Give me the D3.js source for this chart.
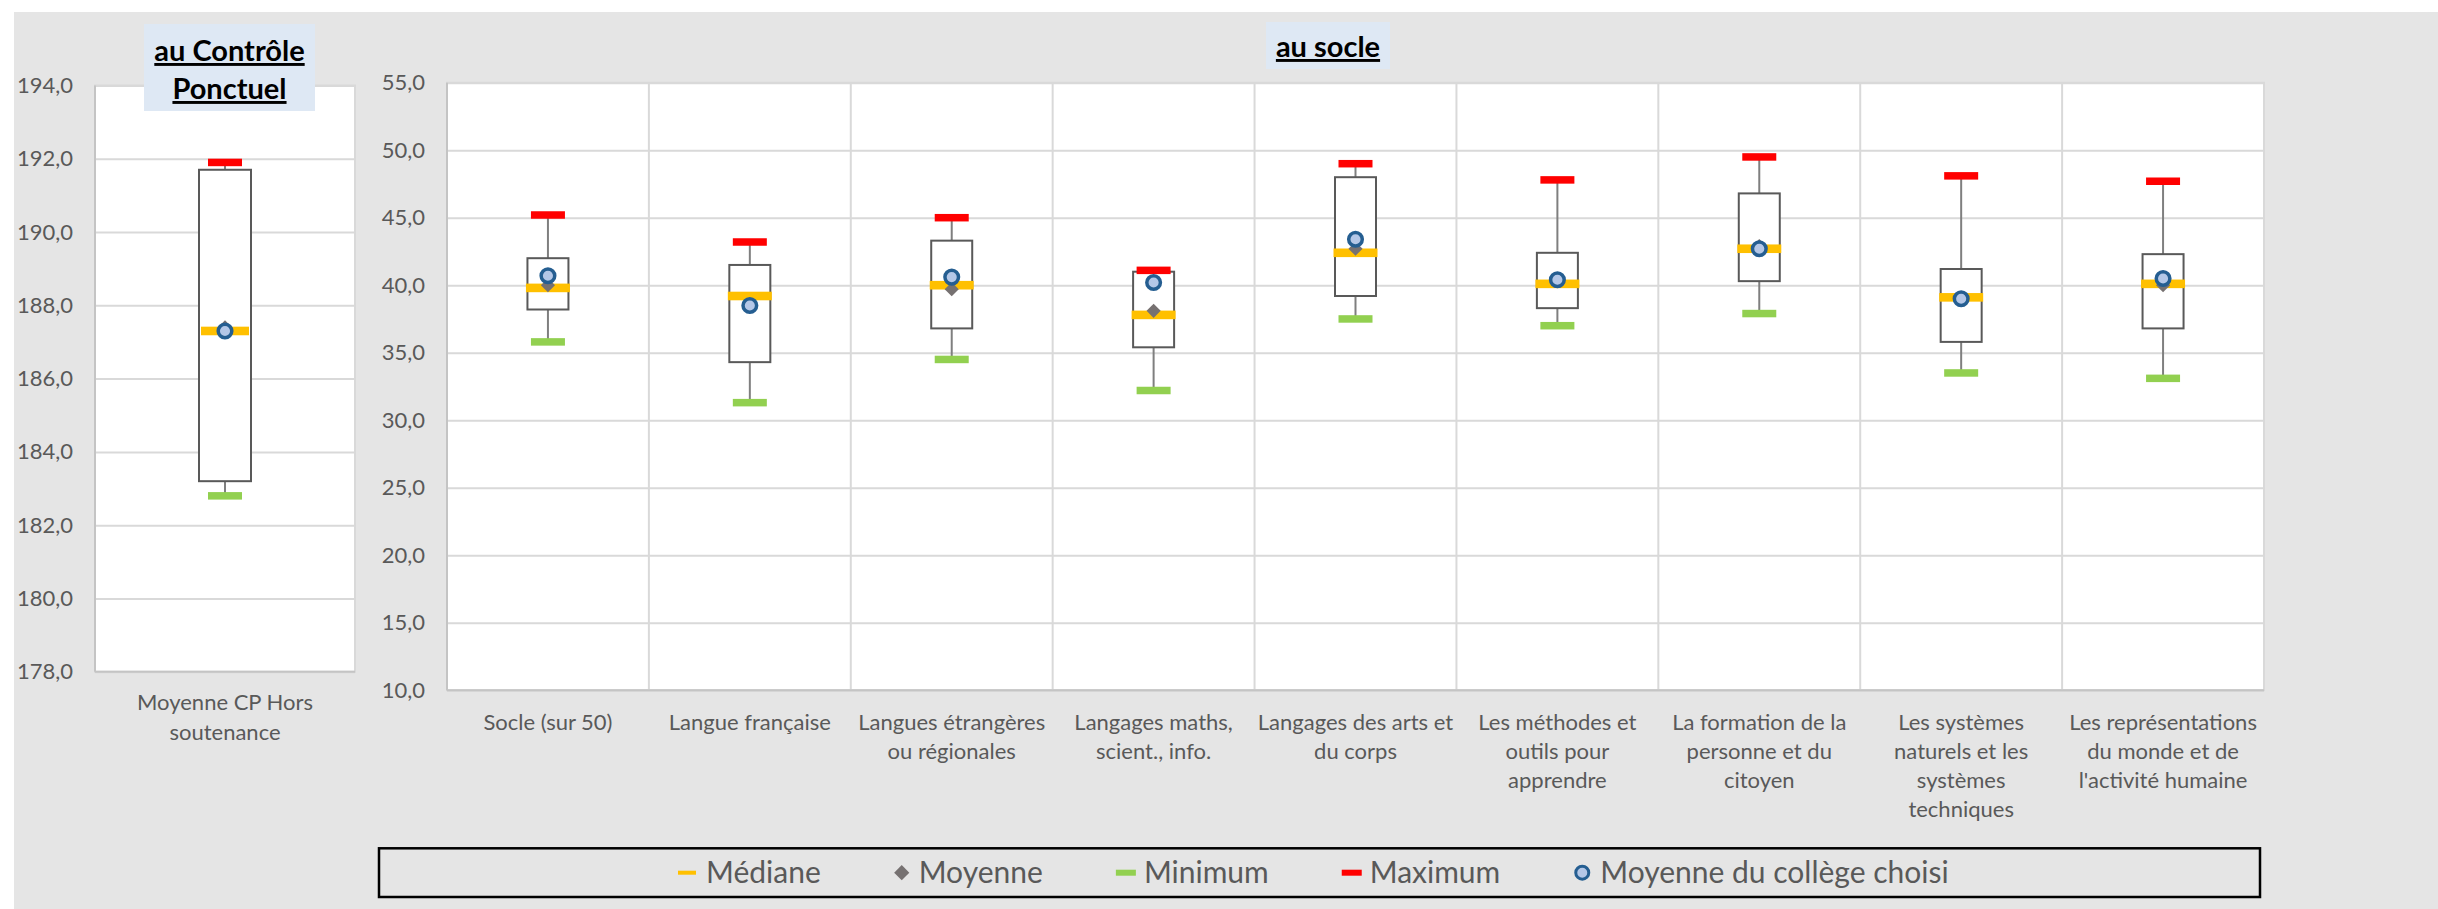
<!DOCTYPE html>
<html>
<head>
<meta charset="utf-8">
<script src="https://cdn.jsdelivr.net/npm/d3@7/dist/d3.min.js"></script>
<style>
body{margin:0;background:#fff;}
text{font-family:Lato,"Open Sans",sans-serif;}
</style>
</head>
<body>
<svg id="chart" width="2438" height="909"></svg>
<script>
// au socle
var categories = ["Socle (sur 50)", "Langue française", "Langues étrangères\nou régionales",
  "Langages maths,\nscient., info.", "Langages des arts et\ndu corps", "Les méthodes et\noutils pour\napprendre",
  "La formation de la\npersonne et du\ncitoyen", "Les systèmes\nnaturels et les\nsystèmes\ntechniques",
  "Les représentations\ndu monde et de\nl'activité humaine"];
var maxValues     = [45.2, 43.2, 45.0, 41.1, 49.0, 47.8, 49.5, 48.1, 47.7];
var q3Values      = [42.0, 41.5, 43.3, 41.0, 48.0, 42.4, 46.8, 41.2, 42.3];
var medianValues  = [39.8, 39.2, 40.0, 37.8, 42.4, 40.1, 42.7, 39.1, 40.1];
var q1Values      = [38.2, 34.3, 36.8, 35.4, 39.2, 38.3, 40.3, 35.8, 36.8];
var minValues     = [35.8, 31.3, 34.5, 32.2, 37.5, 37.0, 37.9, 33.5, 33.1];
var meanValues    = [40.0, 38.4, 39.7, 38.1, 42.7, 40.3, 42.9, 39.0, 40.0];
var collegeValues = [40.7, 38.5, 40.6, 40.2, 43.4, 40.4, 42.7, 39.0, 40.5];
var socleTicks = [10, 15, 20, 25, 30, 35, 40, 45, 50, 55];

// au contrôle ponctuel
var cpCategories = ["Moyenne CP Hors\nsoutenance"];
var cpMax = [191.9];
var cpQ3 = [191.7];
var cpMedian = [187.3];
var cpQ1 = [183.2];
var cpMin = [182.8];
var cpMean = [187.4];
var cpCollege = [187.3];
var cpTicks = [178, 180, 182, 184, 186, 188, 190, 192, 194];

var legendLabels = ["Médiane", "Moyenne", "Minimum", "Maximum", "Moyenne du collège choisi"];

var svg = d3.select("#chart");
var textColor = "#595959";

svg.append("rect").attr("x", 14).attr("y", 12).attr("width", 2424).attr("height", 897).attr("fill", "#e5e5e5");

var fmt = function(d){ return d3.format(".1f")(d).replace(".", ","); };

var makeRows = function(cats, mx, q3, med, q1, mn, mean, col){
  return cats.map(function(c, i){
    return {cat: c, max: mx[i], q3: q3[i], median: med[i], q1: q1[i], min: mn[i], mean: mean[i], college: col[i]};
  });
};

var makePanel = function(cfg)
{
  var g = svg.append("g");
  var x = d3.scaleBand().domain(cfg.rows.map(function(d){return d.cat;})).range([cfg.left, cfg.right]);
  var y = d3.scaleLinear().domain(cfg.domain).range([cfg.bottom, cfg.top]);

  // plot area
  g.append("rect")
   .attr("x", cfg.left).attr("y", cfg.top)
   .attr("width", cfg.right - cfg.left).attr("height", cfg.bottom - cfg.top)
   .attr("fill", "#fff").attr("stroke", "#d9d9d9").attr("stroke-width", 2);

  // horizontal grid
  var grid = g.append("g")
   .attr("transform", "translate(" + cfg.left + ",0)")
   .call(d3.axisLeft(y).tickValues(cfg.ticks).tickSize(-(cfg.right - cfg.left)).tickFormat(""));
  grid.select(".domain").remove();
  grid.selectAll("line").attr("stroke", "#d9d9d9").attr("stroke-width", 2);

  // vertical grid between categories
  g.selectAll(".vgrid")
   .data(cfg.rows.slice(1))
   .enter()
   .append("line")
   .attr("x1", function(d){return x(d.cat);})
   .attr("x2", function(d){return x(d.cat);})
   .attr("y1", cfg.top).attr("y2", cfg.bottom)
   .attr("stroke", "#d9d9d9").attr("stroke-width", 2);

  // axis lines
  g.append("line").attr("x1", cfg.left).attr("x2", cfg.left).attr("y1", cfg.top).attr("y2", cfg.bottom)
   .attr("stroke", "#c4c4c4").attr("stroke-width", 2);
  g.append("line").attr("x1", cfg.left).attr("x2", cfg.right).attr("y1", cfg.bottom).attr("y2", cfg.bottom)
   .attr("stroke", "#c4c4c4").attr("stroke-width", 2);

  // tick labels
  var yAxis = g.append("g")
   .attr("transform", "translate(" + cfg.left + ",0)")
   .call(d3.axisLeft(y).tickValues(cfg.ticks).tickSize(0).tickPadding(22).tickFormat(fmt));
  yAxis.select(".domain").remove();
  yAxis.selectAll("text").attr("font-size", 22).attr("fill", textColor).attr("font-family", "Lato, sans-serif");

  // category labels
  var labels = g.selectAll(".catlabel")
   .data(cfg.rows)
   .enter()
   .append("text")
   .attr("text-anchor", "middle")
   .attr("font-size", 22)
   .attr("fill", textColor);
  labels.each(function(d){
    var t = d3.select(this);
    d.cat.split("\n").forEach(function(line, i){
      t.append("tspan")
       .attr("x", x(d.cat) + x.bandwidth()/2)
       .attr("y", cfg.labelY + i*cfg.lineHeight)
       .text(line);
    });
  });

  var cx = function(d){ return x(d.cat) + x.bandwidth()/2; };

  // whiskers
  g.selectAll(".whisker")
   .data(cfg.rows)
   .enter()
   .append("line")
   .attr("x1", cx).attr("x2", cx)
   .attr("y1", function(d){return y(d.max);})
   .attr("y2", function(d){return y(d.min);})
   .attr("stroke", "#7f7f7f").attr("stroke-width", 2);

  // boxes
  g.selectAll(".box")
   .data(cfg.rows)
   .enter()
   .append("rect")
   .attr("x", function(d){return cx(d) - cfg.boxWidth/2;})
   .attr("y", function(d){return y(d.q3);})
   .attr("width", cfg.boxWidth)
   .attr("height", function(d){return y(d.q1) - y(d.q3);})
   .attr("fill", "#fff").attr("stroke", "#595959").attr("stroke-width", 2);

  // median, max, min markers
  var dash = function(key, w, h, color){
    g.selectAll(".m-" + key)
     .data(cfg.rows)
     .enter()
     .append("rect")
     .attr("x", function(d){return cx(d) - w/2;})
     .attr("y", function(d){return y(d[key]) - h/2;})
     .attr("width", w).attr("height", h)
     .attr("fill", color);
  };
  dash("median", cfg.medianWidth, 8.6, "#ffc000");
  dash("max", 34, 7.5, "#ff0000");
  dash("min", 34, 7.5, "#92d050");

  // mean diamond
  g.selectAll(".mean")
   .data(cfg.rows)
   .enter()
   .append("path")
   .attr("d", d3.symbol().type(d3.symbolSquare).size(100))
   .attr("transform", function(d){return "translate(" + cx(d) + "," + y(d.mean) + ") rotate(45)";})
   .attr("fill", "#767171");

  // college mean
  g.selectAll(".college")
   .data(cfg.rows)
   .enter()
   .append("circle")
   .attr("cx", cx)
   .attr("cy", function(d){return y(d.college);})
   .attr("r", 6.8)
   .attr("fill", "#b4c7e7").attr("stroke", "#255e91").attr("stroke-width", 3.5);
};

makePanel({
  rows: makeRows(cpCategories, cpMax, cpQ3, cpMedian, cpQ1, cpMin, cpMean, cpCollege),
  left: 95, right: 355, top: 85.5, bottom: 671.7,
  domain: [178, 194], ticks: cpTicks,
  boxWidth: 52, medianWidth: 48,
  labelY: 710, lineHeight: 30
});

makePanel({
  rows: makeRows(categories, maxValues, q3Values, medianValues, q1Values, minValues, meanValues, collegeValues),
  left: 447, right: 2264, top: 82.7, bottom: 690.2,
  domain: [10, 55], ticks: socleTicks,
  boxWidth: 41, medianWidth: 44,
  labelY: 730, lineHeight: 29
});

// titles
var title = function(lines, bx, by, bw, bh, baseY, lh){
  svg.append("rect").attr("x", bx).attr("y", by).attr("width", bw).attr("height", bh).attr("fill", "#dee8f4");
  var t = svg.append("text")
   .attr("text-anchor", "middle")
   .attr("font-size", 29)
   .attr("font-weight", "bold")
   .attr("text-decoration", "underline")
   .attr("fill", "#000");
  lines.forEach(function(l, i){
    t.append("tspan").attr("x", bx + bw/2).attr("y", baseY + i*lh).text(l);
  });
};
title(["au Contrôle", "Ponctuel"], 144, 24, 171, 87, 61, 38);
title(["au socle"], 1266, 22, 124, 47, 57, 0);

// legend
var legend = svg.append("g");
legend.append("rect")
  .attr("x", 379).attr("y", 848.3).attr("width", 1881).attr("height", 48.7)
  .attr("fill", "none").attr("stroke", "#000").attr("stroke-width", 2.5);

var legendY = 872.7;
var lx = 678;
legendLabels.forEach(function(label, i){
  var item = legend.append("g");
  var w = 19;
  if (i === 0){
    item.append("rect").attr("x", lx).attr("y", legendY - 2).attr("width", 18).attr("height", 4).attr("fill", "#ffc000");
  }
  if (i === 1){
    w = 16;
    item.append("path").attr("d", d3.symbol().type(d3.symbolSquare).size(115))
      .attr("transform", "translate(" + (lx + 8) + "," + legendY + ") rotate(45)").attr("fill", "#767171");
  }
  if (i === 2){
    item.append("rect").attr("x", lx).attr("y", legendY - 3).attr("width", 20).attr("height", 6).attr("fill", "#92d050");
  }
  if (i === 3){
    item.append("rect").attr("x", lx).attr("y", legendY - 3).attr("width", 20).attr("height", 6).attr("fill", "#ff0000");
  }
  if (i === 4){
    w = 18;
    item.append("circle").attr("cx", lx + 9).attr("cy", legendY).attr("r", 6.5)
      .attr("fill", "#b4c7e7").attr("stroke", "#255e91").attr("stroke-width", 3);
  }
  var txt = item.append("text")
    .attr("x", lx + w + 9)
    .attr("y", legendY)
    .attr("dy", "0.35em")
    .attr("font-size", 30)
    .attr("fill", textColor)
    .text(label);
  lx = lx + w + 9 + txt.node().getComputedTextLength() + 73;
});
</script>
</body>
</html>
